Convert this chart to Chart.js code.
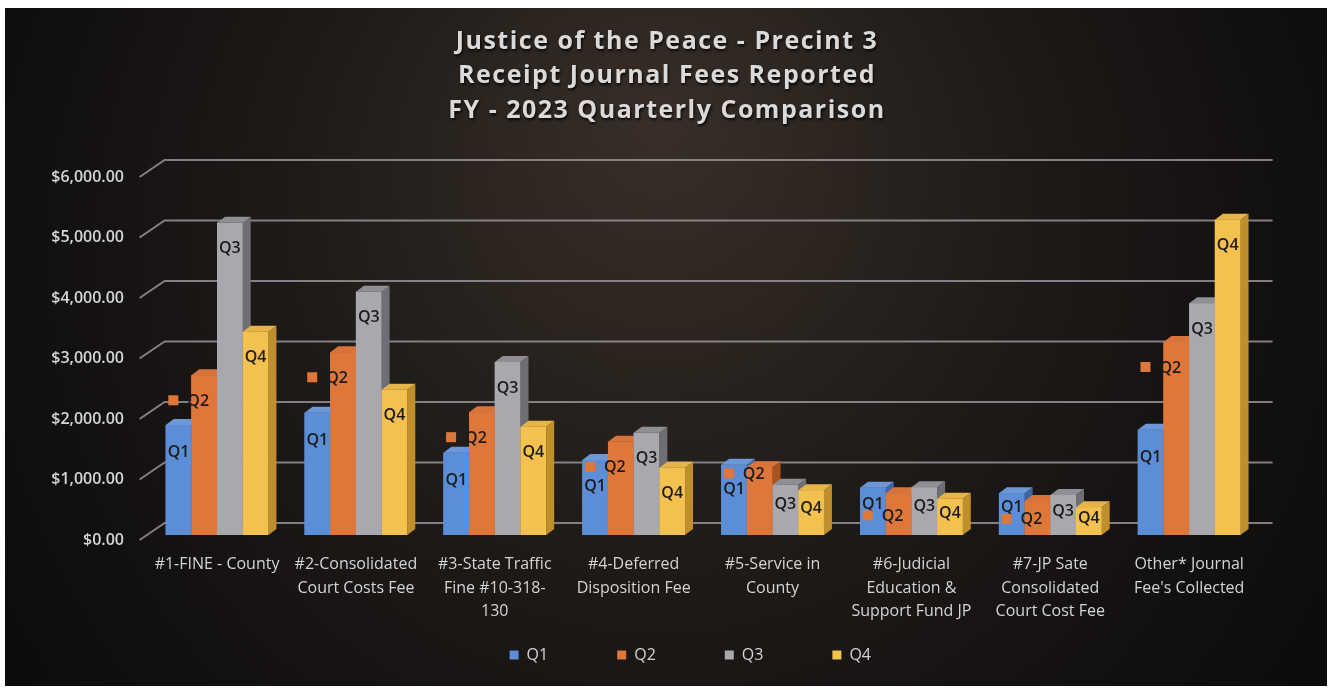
<!DOCTYPE html>
<html>
<head>
<meta charset="utf-8">
<script src="https://cdn.jsdelivr.net/npm/chart.js@4.4.0/dist/chart.umd.min.js"></script>
<style>
  html, body { margin: 0; padding: 0; background: #fff; }
  #wrap { width: 1333px; height: 688px; }
</style>
</head>
<body>
<div id="wrap"><canvas id="feesChart" width="1333" height="688"></canvas></div>
<script>
// datos
const categories = [
  ['#1-FINE - County'],
  ['#2-Consolidated', 'Court Costs Fee'],
  ['#3-State Traffic', 'Fine #10-318-', '130'],
  ['#4-Deferred', 'Disposition Fee'],
  ['#5-Service in', 'County'],
  ['#6-Judicial', 'Education &', 'Support Fund JP'],
  ['#7-JP Sate', 'Consolidated', 'Court Cost Fee'],
  ['Other* Journal', "Fee's Collected"]
];
const seriesNames = ['Q1', 'Q2', 'Q3', 'Q4'];
const q1 = [1820, 2020, 1360, 1240, 1160, 780, 690, 1740];
const q2 = [2640, 3020, 2030, 1540, 1120, 690, 560, 3190];
const q3 = [5160, 4020, 2860, 1690, 830, 790, 660, 3830];
const q4 = [3360, 2400, 1790, 1110, 740, 600, 460, 5210];
const yMax = 6000;
const yStep = 1000;
const titleLines = ['Justice of the Peace - Precint 3', 'Receipt Journal Fees Reported', 'FY - 2023 Quarterly Comparison'];

const frontColors = ['#5b8ed6', '#e0773a', '#a9a8ae', '#f3c14f'];
const sideColors = ['#3d66a3', '#a9521f', '#6f6e75', '#bf8f2b'];
const topColors = ['#6d98d8', '#d9733a', '#8f8e95', '#e6b548'];

const DX = 8, DY = 6;

// fondo oscuro con marco blanco + titulo
const backgroundPlugin = {
  id: 'fondo',
  beforeDraw(chart) {
    const ctx = chart.ctx;
    ctx.save();
    ctx.fillStyle = '#ffffff';
    ctx.fillRect(0, 0, chart.width, chart.height);
    const g = ctx.createRadialGradient(660, 120, 10, 660, 300, 820);
    g.addColorStop(0, '#382e27');
    g.addColorStop(0.45, '#1d1a18');
    g.addColorStop(1, '#0a0909');
    ctx.fillStyle = g;
    ctx.fillRect(5, 8, 1322, 678);
    ctx.font = 'bold 25px "Open Sans"';
    ctx.textAlign = 'center';
    ctx.textBaseline = 'middle';
    if ('letterSpacing' in ctx) ctx.letterSpacing = '1.5px';
    ctx.shadowColor = 'rgba(0,0,0,0.85)';
    ctx.shadowBlur = 3;
    ctx.shadowOffsetX = 1;
    ctx.shadowOffsetY = 2;
    ctx.fillStyle = '#dadada';
    const ys = [42, 76, 111];
    titleLines.forEach((t, i) => ctx.fillText(t, 667, ys[i]));
    ctx.restore();
  }
};

// ajustes tras el layout: zona de etiquetas del eje x y posicion de la leyenda
const layoutPlugin = {
  id: 'ajusteLayout',
  afterLayout(chart) {
    const x = chart.scales.x;
    x.bottom = x.top + 100;
    x.height = 100;
    chart.legend.left += 61;
    chart.legend.right += 61;
  }
};

// lineas de la pared trasera
const gridPlugin = {
  id: 'rejilla',
  beforeDatasetsDraw(chart) {
    const ctx = chart.ctx;
    const y = chart.scales.y;
    const area = chart.chartArea;
    ctx.save();
    ctx.strokeStyle = 'rgba(150,146,152,0.85)';
    ctx.lineWidth = 2;
    y.ticks.forEach(t => {
      const py = y.getPixelForValue(t.value);
      ctx.beginPath();
      ctx.moveTo(area.left - 8, py + 5);
      ctx.lineTo(area.left + 17, py - 12);
      ctx.lineTo(area.right + 14, py - 12);
      ctx.stroke();
    });
    ctx.restore();
  }
};

// caras 3D y etiquetas de serie
const bars3dPlugin = {
  id: 'barras3d',
  afterDatasetsDraw(chart) {
    const ctx = chart.ctx;
    ctx.save();
    for (let i = 0; i < chart.data.datasets.length; i++) {
      const meta = chart.getDatasetMeta(i);
      meta.data.forEach(bar => {
        const p = bar.getProps(['x', 'y', 'base', 'width'], true);
        const l = p.x - p.width / 2, r = p.x + p.width / 2;
        bar.draw(ctx);
        ctx.fillStyle = sideColors[i];
        ctx.beginPath();
        ctx.moveTo(r, p.y);
        ctx.lineTo(r + DX, p.y - DY);
        ctx.lineTo(r + DX, p.base - DY);
        ctx.lineTo(r, p.base);
        ctx.closePath();
        ctx.fill();
        ctx.fillStyle = topColors[i];
        ctx.beginPath();
        ctx.moveTo(l, p.y);
        ctx.lineTo(l + DX, p.y - DY);
        ctx.lineTo(r + DX, p.y - DY);
        ctx.lineTo(r, p.y);
        ctx.closePath();
        ctx.fill();
      });
    }
    ctx.font = '600 16px "Open Sans"';
    ctx.textBaseline = 'middle';
    const m1 = chart.getDatasetMeta(0);
    for (let i = 0; i < chart.data.datasets.length; i++) {
      const meta = chart.getDatasetMeta(i);
      const name = chart.data.datasets[i].label;
      meta.data.forEach((bar, j) => {
        const p = bar.getProps(['x', 'y', 'base', 'width'], true);
        const h = p.base - p.y;
        let ly;
        if (i === 0) {
          ly = p.y + Math.min(28, h * 0.35);
        } else if (i === 1) {
          ly = p.y + Math.min(26, h * 0.45);
          const p1 = m1.data[j].getProps(['y', 'base'], true);
          const ly1 = p1.y + Math.min(28, (p1.base - p1.y) * 0.35);
          if (Math.abs(ly - ly1) < 13) {
            ly = h > 60 ? ly1 - 15 : Math.min(ly1 + 12, p.base - 10);
          }
        } else {
          ly = p.y + Math.min(26, h * 0.4);
        }
        if (i === 1) {
          const tx = p.x - p.width / 2 - 4;
          ctx.fillStyle = frontColors[1];
          ctx.fillRect(tx - 19, ly - 6, 10, 10);
          ctx.fillStyle = '#1c1c1c';
          ctx.textAlign = 'left';
          ctx.fillText(name, tx, ly);
        } else {
          ctx.fillStyle = '#1c1c1c';
          ctx.textAlign = 'center';
          ctx.fillText(name, p.x, ly);
        }
      });
    }
    ctx.restore();
  }
};

const ctx = document.getElementById('feesChart').getContext('2d');
new Chart(ctx, {
  type: 'bar',
  data: {
    labels: categories,
    datasets: [q1, q2, q3, q4].map((vals, i) => ({
      label: seriesNames[i],
      data: vals,
      backgroundColor: frontColors[i],
      borderWidth: 0,
      categoryPercentage: 0.74,
      barPercentage: 1.0
    }))
  },
  options: {
    responsive: false,
    animation: false,
    devicePixelRatio: 1,
    layout: { padding: { left: 0, right: 74.4, top: 172, bottom: 15 } },
    scales: {
      x: {
        grid: { display: false, drawTicks: false },
        border: { display: false },
        ticks: {
          color: '#d4d4d4',
          font: { family: 'Open Sans', size: 16, lineHeight: 1.47 },
          padding: 18,
          maxRotation: 0,
          autoSkip: false
        },
        afterFit(s) { s.height = 43; }
      },
      y: {
        min: 0,
        max: yMax,
        grid: { display: false, drawTicks: false },
        border: { display: false },
        ticks: {
          stepSize: yStep,
          color: '#d6d6d6',
          font: { family: 'Open Sans', size: 16, weight: '600' },
          padding: 23.6,
          labelOffset: 5,
          callback: v => '$' + v.toLocaleString('en-US', { minimumFractionDigits: 2, maximumFractionDigits: 2 })
        },
        afterFit(s) { s.width = 147.6; }
      }
    },
    plugins: {
      title: { display: false },
      tooltip: { enabled: false },
      legend: {
        position: 'bottom',
        labels: {
          color: '#d4d4d4',
          font: { family: 'Open Sans', size: 16 },
          boxWidth: 9,
          boxHeight: 9,
          padding: 69
        }
      }
    }
  },
  plugins: [backgroundPlugin, layoutPlugin, gridPlugin, bars3dPlugin]
});
</script>
</body>
</html>
